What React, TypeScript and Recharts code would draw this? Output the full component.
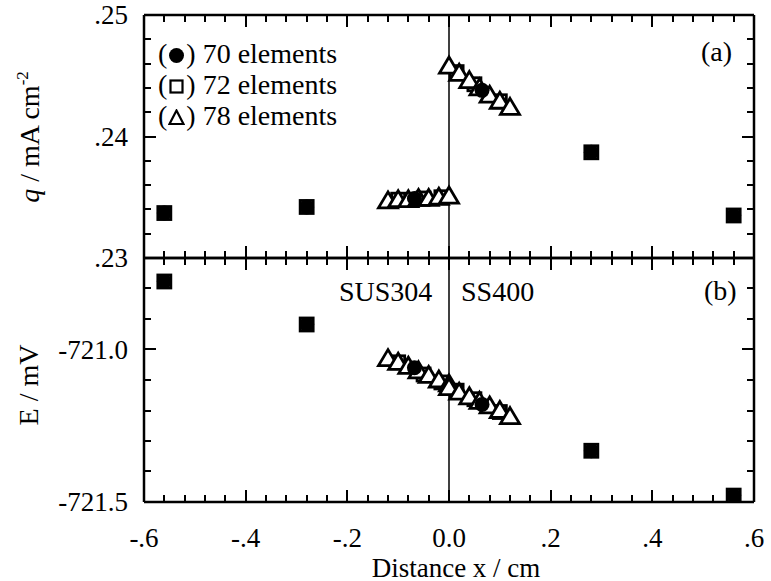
import React from 'react';
import { ScatterChart, Scatter, XAxis, YAxis, ReferenceLine } from 'recharts';

// distance x / cm for each mesh
const x70 = [-0.56, -0.28, -0.068, 0.065, 0.28, 0.56];
const x72 = [-0.56, -0.28, -0.1, -0.05, -0.015, 0.015, 0.05, 0.1, 0.28, 0.56];
const x78 = [-0.12, -0.1, -0.08, -0.06, -0.04, -0.02, 0, 0, 0.02, 0.04, 0.06, 0.08, 0.1, 0.12];

// (a) current density q / mA cm-2
const q70 = [0.2337, 0.2342, 0.2349, 0.2438, 0.2387, 0.2335];
const q72 = [0.2337, 0.2342, 0.2348, 0.2349, 0.235, 0.2453, 0.2443, 0.2429, 0.2387, 0.2335];
const q78 = [0.2347, 0.2348, 0.2348, 0.2349, 0.2349, 0.235, 0.2351, 0.2458, 0.2452, 0.2446, 0.244, 0.2434, 0.2429, 0.2424];

// (b) potential E / mV
const e70 = [-720.777, -720.918, -721.06, -721.18, -721.332, -721.479];
const e72 = [-720.777, -720.918, -721.042, -721.082, -721.108, -721.135, -721.163, -721.205, -721.332, -721.479];
const e78 = [-721.03, -721.042, -721.055, -721.07, -721.085, -721.1, -721.113, -721.125, -721.14, -721.155, -721.17, -721.185, -721.2, -721.22];

const xTicks = Array.from({ length: 31 }, (_, i) => +(-0.6 + i * 0.04).toFixed(2));
const xMajor = [-0.6, -0.4, -0.2, 0, 0.2, 0.4, 0.6];
const qTicks = Array.from({ length: 11 }, (_, i) => +(0.23 + i * 0.002).toFixed(3));
const qMajor = [0.23, 0.24, 0.25];
const eTicks = Array.from({ length: 9 }, (_, i) => +(-721.5 + i * 0.1).toFixed(1));
const eMajor = [-721.5, -721.0];

const font = "'Liberation Serif', 'Times New Roman', serif";
const W = 771;
const H = 581;
const LEFT = 144;
const RIGHT = 754;
const TOP = 15;
const MID = 258;
const BOTTOM = 502;
const X_DOMAIN: [number, number] = [-0.6, 0.6];
const Q_DOMAIN: [number, number] = [0.23, 0.25];
const E_DOMAIN: [number, number] = [-721.5, -720.7];

const pts = (xs: number[], ys: number[]) => xs.map((x, i) => ({ x, y: ys[i] }));
const isMajor = (majors: number[], v: number) => majors.some((m) => Math.abs(m - v) < 1e-6);

type Side = 'bottom' | 'left';

function labelRenderer(side: Side, majors: number[], fmt?: (v: number) => string) {
  return (props: any) => {
    const x = Number(props.x);
    const y = Number(props.y);
    const v = Number(props.payload.value);
    if (!fmt || !isMajor(majors, v)) return <g />;
    if (side === 'bottom') {
      return (
        <text x={x} y={y + 36} textAnchor="middle" dominantBaseline="central" fontFamily={font} fontSize={27} fill="#000">
          {fmt(v)}
        </text>
      );
    }
    return (
      <text x={x - 16} y={y} textAnchor="end" dominantBaseline="central" fontFamily={font} fontSize={27} fill="#000">
        {fmt(v)}
      </text>
    );
  };
}

const fmtX = (v: number) => (Math.abs(v) < 1e-9 ? '0.0' : v.toFixed(1).replace('0.', '.'));
const fmtQ = (v: number) => v.toFixed(2).replace('0.', '.');
const fmtE = (v: number) => v.toFixed(1);

const Circle = (p: any) => <circle cx={p.cx} cy={p.cy} r={7.5} fill="#000" />;
const Square = (p: any) => (
  <rect x={p.cx - 6.5} y={p.cy - 6.5} width={13} height={13} fill="#fff" stroke="#000" strokeWidth={2.8} />
);
const Triangle = (p: any) => (
  <path
    d={`M${p.cx},${p.cy - 9}L${p.cx + 9.5},${p.cy + 7}L${p.cx - 9.5},${p.cy + 7}Z`}
    fill="#fff"
    stroke="#000"
    strokeWidth={2.8}
    strokeLinejoin="miter"
  />
);
const Nothing = () => <g />;

function Panel({
  top,
  bottom,
  domain,
  yTicks,
  yMajor,
  fmtY,
  series,
  xLabels,
}: {
  top: number;
  bottom: number;
  domain: [number, number];
  yTicks: number[];
  yMajor: number[];
  fmtY: (v: number) => string;
  series: { data: { x: number; y: number }[]; shape: any; name: string }[];
  xLabels: boolean;
}) {
  const axisLine = { stroke: '#000', strokeWidth: 2.5 };
  // each axis takes 1px of the margin
  return (
    <div style={{ position: 'absolute', left: 0, top: 0 }}>
      <ScatterChart
        width={W}
        height={H}
        margin={{ top: top - 1, bottom: H - bottom - 1, left: LEFT - 1, right: W - RIGHT - 1 }}
      >
        <XAxis
          xAxisId="b"
          dataKey="x"
          type="number"
          domain={X_DOMAIN}
          ticks={xTicks}
          interval={0}
          allowDataOverflow
          height={1}
          tickSize={0}
          tickMargin={0}
          tickLine={false}
          axisLine={axisLine}
          tick={labelRenderer('bottom', xMajor, xLabels ? fmtX : undefined)}
        />
        <XAxis
          xAxisId="t"
          orientation="top"
          dataKey="x"
          type="number"
          domain={X_DOMAIN}
          ticks={xTicks}
          interval={0}
          allowDataOverflow
          height={1}
          tickSize={0}
          tickMargin={0}
          tickLine={false}
          axisLine={axisLine}
          tick={false}
        />
        <YAxis
          yAxisId="l"
          dataKey="y"
          type="number"
          domain={domain}
          ticks={yTicks}
          interval={0}
          allowDataOverflow
          width={1}
          tickSize={0}
          tickMargin={0}
          tickLine={false}
          axisLine={axisLine}
          tick={labelRenderer('left', yMajor, fmtY)}
        />
        <YAxis
          yAxisId="r"
          orientation="right"
          dataKey="y"
          type="number"
          domain={domain}
          ticks={yTicks}
          interval={0}
          allowDataOverflow
          width={1}
          tickSize={0}
          tickMargin={0}
          tickLine={false}
          axisLine={axisLine}
          tick={false}
        />
        <ReferenceLine xAxisId="b" yAxisId="l" x={0} stroke="#000" strokeWidth={1.5} />
        <Scatter xAxisId="t" yAxisId="r" data={series[0].data} shape={Nothing} isAnimationActive={false} />
        {series.map((s) => (
          <Scatter
            key={s.name}
            name={s.name}
            xAxisId="b"
            yAxisId="l"
            data={s.data}
            shape={s.shape}
            isAnimationActive={false}
          />
        ))}
      </ScatterChart>
    </div>
  );
}

// inward tick marks on all four sides of both panels, drawn as small filled bars
function TickFrame() {
  const px = (v: number) => LEFT + ((v - X_DOMAIN[0]) / (X_DOMAIN[1] - X_DOMAIN[0])) * (RIGHT - LEFT);
  const marks: React.ReactElement[] = [];
  const panels = [
    { top: TOP, bottom: MID, domain: Q_DOMAIN, ticks: qTicks, majors: qMajor, id: 'q' },
    { top: MID, bottom: BOTTOM, domain: E_DOMAIN, ticks: eTicks, majors: eMajor, id: 'e' },
  ];
  panels.forEach((p) => {
    const py = (v: number) => p.bottom - ((v - p.domain[0]) / (p.domain[1] - p.domain[0])) * (p.bottom - p.top);
    xTicks.forEach((v) => {
      const len = isMajor(xMajor, v) ? 12 : 7;
      const x = Math.round(px(v)) - 1;
      marks.push(<rect key={`${p.id}b${v}`} x={x} y={p.bottom - len} width={2} height={len} fill="#000" />);
      marks.push(<rect key={`${p.id}t${v}`} x={x} y={p.top} width={2} height={len} fill="#000" />);
    });
    p.ticks.forEach((v) => {
      const len = isMajor(p.majors, v) ? 12 : 7;
      const y = Math.round(py(v)) - 1;
      marks.push(<rect key={`${p.id}l${v}`} x={LEFT} y={y} width={len} height={2} fill="#000" />);
      marks.push(<rect key={`${p.id}r${v}`} x={RIGHT - len} y={y} width={len} height={2} fill="#000" />);
    });
  });
  return (
    <svg width={W} height={H} style={{ position: 'absolute', left: 0, top: 0, pointerEvents: 'none', zIndex: 5 }}>
      {marks}
    </svg>
  );
}

const textStyle: React.CSSProperties = {
  position: 'absolute',
  fontFamily: font,
  fontSize: 28,
  lineHeight: '31px',
  whiteSpace: 'nowrap',
  color: '#000',
};

function Icon({ kind }: { kind: 'circle' | 'square' | 'triangle' }) {
  return (
    <svg width={17} height={17} style={{ verticalAlign: '-1px', margin: '0 1px' }}>
      {kind === 'circle' && <circle cx={8.5} cy={8.5} r={7.5} fill="#000" />}
      {kind === 'square' && <rect x={2.5} y={2.5} width={12} height={12} fill="#fff" stroke="#000" strokeWidth={2.2} />}
      {kind === 'triangle' && <path d="M8.5,1.5L15.5,15L1.5,15Z" fill="#fff" stroke="#000" strokeWidth={2.2} />}
    </svg>
  );
}

export default function App() {
  return (
    <div style={{ position: 'absolute', left: 0, top: 0, width: W, height: H, background: '#fff', overflow: 'hidden' }}>
      <Panel
        top={TOP}
        bottom={MID}
        domain={Q_DOMAIN}
        yTicks={qTicks}
        yMajor={qMajor}
        fmtY={fmtQ}
        xLabels={false}
        series={[
          { name: '72 elements', data: pts(x72, q72), shape: Square },
          { name: '78 elements', data: pts(x78, q78), shape: Triangle },
          { name: '70 elements', data: pts(x70, q70), shape: Circle },
        ]}
      />
      <Panel
        top={MID}
        bottom={BOTTOM}
        domain={E_DOMAIN}
        yTicks={eTicks}
        yMajor={eMajor}
        fmtY={fmtE}
        xLabels
        series={[
          { name: '72 elements', data: pts(x72, e72), shape: Square },
          { name: '78 elements', data: pts(x78, e78), shape: Triangle },
          { name: '70 elements', data: pts(x70, e70), shape: Circle },
        ]}
      />
      <TickFrame />

      <div style={{ ...textStyle, left: 158, top: 38 }}>
        (<Icon kind="circle" />) 70 elements
      </div>
      <div style={{ ...textStyle, left: 158, top: 69 }}>
        (<Icon kind="square" />) 72 elements
      </div>
      <div style={{ ...textStyle, left: 158, top: 100 }}>
        (<Icon kind="triangle" />) 78 elements
      </div>

      <div style={{ ...textStyle, left: 701, top: 36 }}>(a)</div>
      <div style={{ ...textStyle, left: 704, top: 275 }}>(b)</div>
      <div style={{ ...textStyle, left: 339, top: 276 }}>SUS304</div>
      <div style={{ ...textStyle, left: 461, top: 276 }}>SS400</div>

      <div style={{ ...textStyle, left: 456, top: 568, fontSize: 27, transform: 'translate(-50%, -50%)' }}>
        Distance x / cm
      </div>

      <div style={{ ...textStyle, left: 26, top: 137, transform: 'translate(-50%, -50%) rotate(-90deg)' }}>
        <i>q</i> / mA cm<sup style={{ fontSize: 17 }}>-2</sup>
      </div>
      <div style={{ ...textStyle, left: 28, top: 385, transform: 'translate(-50%, -50%) rotate(-90deg)' }}>
        E / mV
      </div>
    </div>
  );
}
